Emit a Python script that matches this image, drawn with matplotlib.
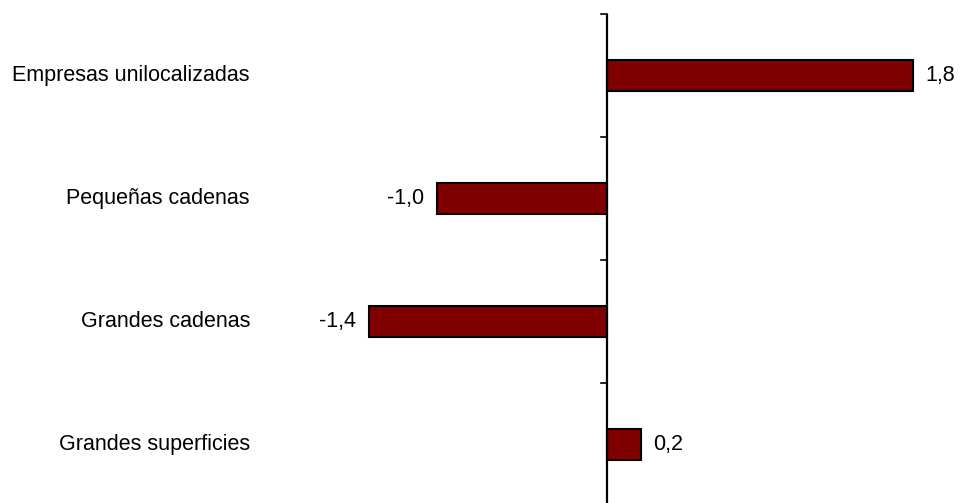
import matplotlib
matplotlib.use('Agg')
import matplotlib.pyplot as plt
import matplotlib.transforms as mtransforms

categorias = ['Empresas unilocalizadas', 'Pequeñas cadenas', 'Grandes cadenas', 'Grandes superficies']
valores = [1.8, -1.0, -1.4, 0.2]

plt.rcParams['font.family'] = ['Liberation Sans', 'DejaVu Sans']

fig = plt.figure(figsize=(9.62, 5.03), dpi=100)
W, H = 962, 503
# axes area in pixels: x 260..950, y 14..506 (from top)
ax = fig.add_axes([260 / W, (H - 506) / H, 690 / W, 492 / H])

y = list(range(len(categorias)))
ax.barh(y, valores, height=0.25, color='#800000', edgecolor='black', linewidth=1.5)

ax.set_ylim(len(categorias) - 0.5, -0.5)
ax.set_xlim(-(607 - 260) / 170, (950 - 607) / 170)

for s in ['top', 'right', 'bottom', 'left']:
    ax.spines[s].set_visible(False)
ax.axvline(0, color='black', linewidth=1.6)

# ticks on the zero line at category boundaries
ax.set_xticks([])
ax.set_yticks([])
for b in [-0.5, 0.5, 1.5, 2.5]:
    ax.plot([-6 / 170, 0], [b, b], color='black', linewidth=1.2, clip_on=False)

# category labels at fixed position on the left
trans = mtransforms.blended_transform_factory(fig.transFigure, ax.transData)
for i, c in enumerate(categorias):
    ax.text(250 / W, i, c, transform=trans, ha='right', va='center', fontsize=15.5)

# value labels
for i, v in enumerate(valores):
    txt = f'{v:.1f}'.replace('.', ',')
    if v >= 0:
        ax.text(v + 12 / 170, i, txt, ha='left', va='center', fontsize=15.5)
    else:
        ax.text(v - 13 / 170, i, txt, ha='right', va='center', fontsize=15.5)

fig.savefig('out.png', dpi=100)
